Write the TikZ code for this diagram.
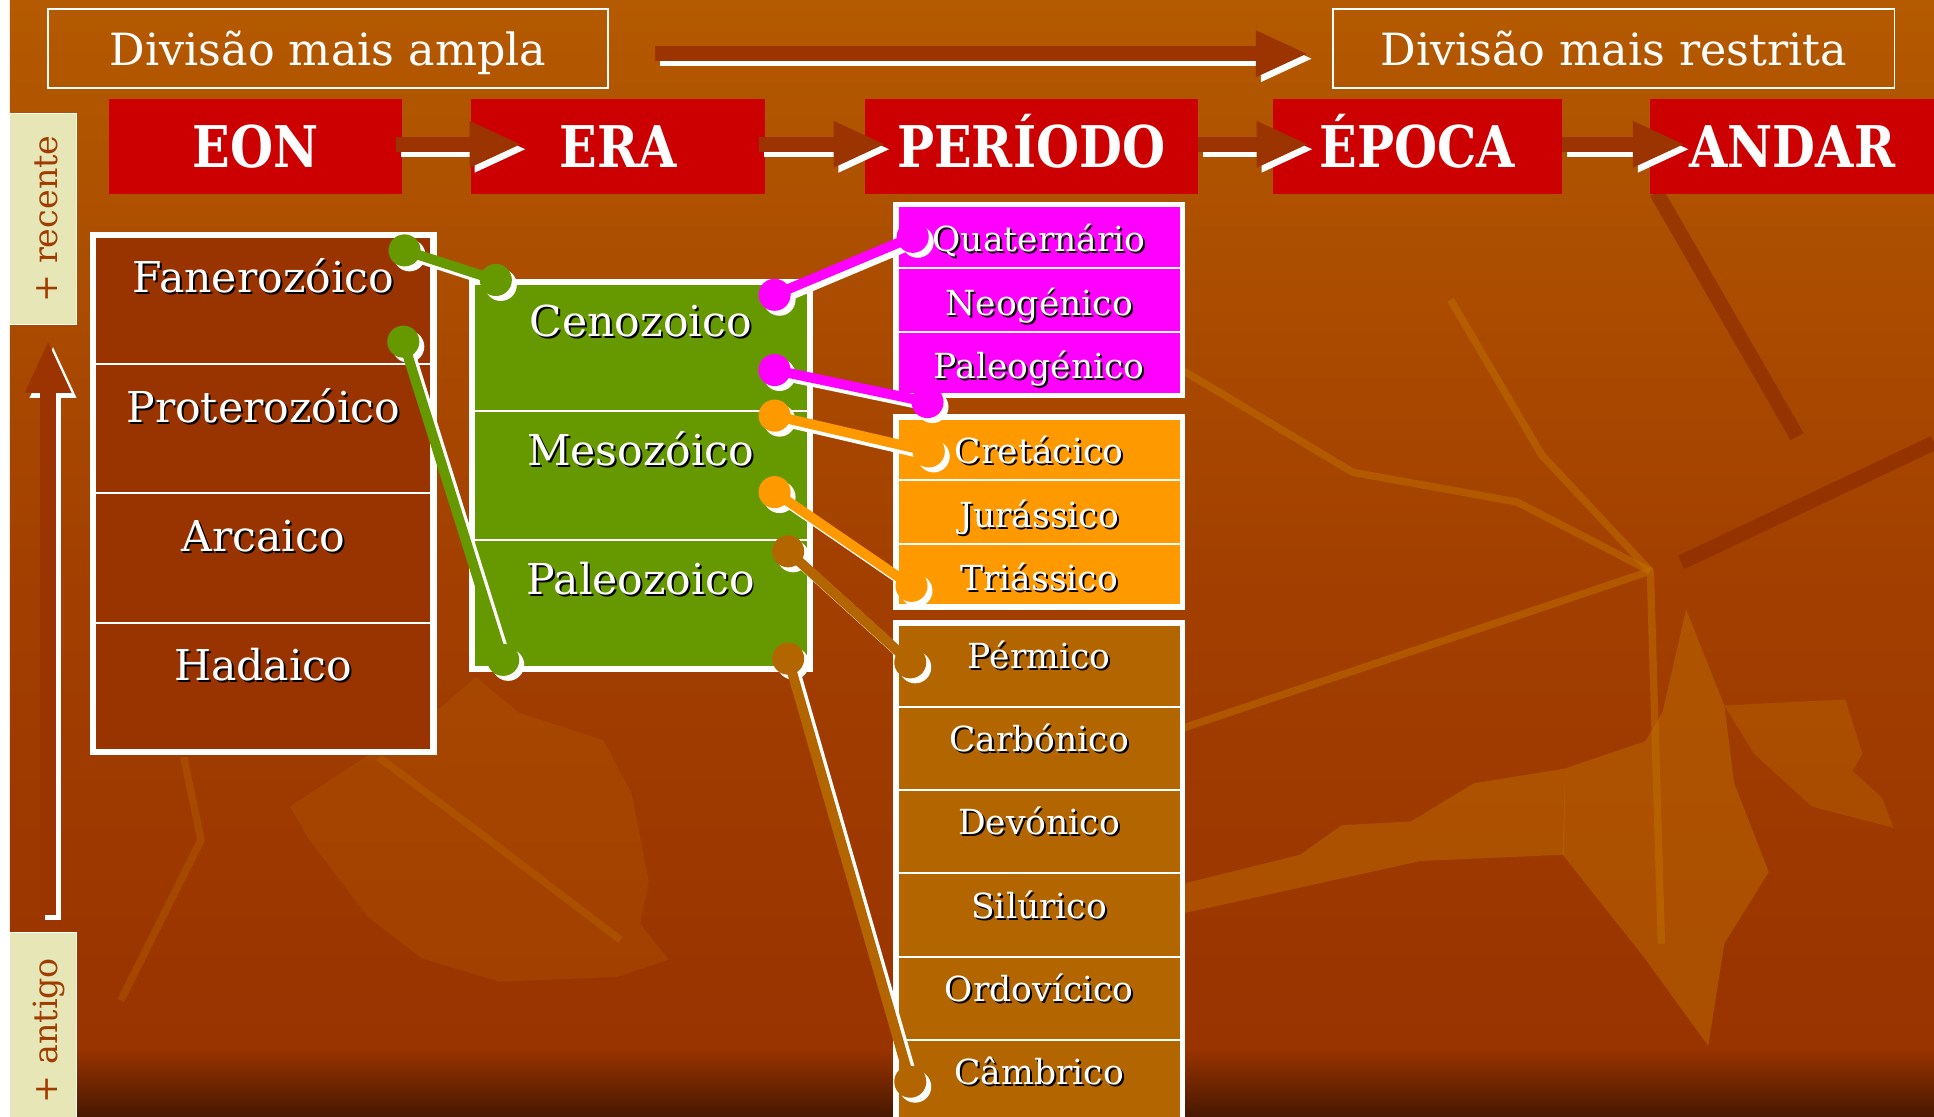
\documentclass[tikz,border=0pt]{standalone}
\usepackage{fontspec}
\usepackage{graphicx}
\usepackage{xcolor}
\usepackage{tikz}
\usetikzlibrary{arrows.meta, calc}
\newfontfamily\rotfont{DejaVu Serif}
\definecolor{fundoA}{RGB}{180, 90, 0}
\definecolor{fundoB}{RGB}{163, 64, 0}
\definecolor{fundoC}{RGB}{153, 51, 0}
\definecolor{fundoD}{RGB}{72, 24, 0}
\definecolor{folhaclara}{RGB}{192, 112, 0}
\definecolor{folhaescura}{RGB}{138, 40, 0}
\definecolor{eoncor}{RGB}{153, 51, 0}
\definecolor{eracor}{RGB}{102, 153, 0}
\definecolor{cenocor}{RGB}{255, 0, 255}
\definecolor{mesocor}{RGB}{255, 153, 0}
\definecolor{paleocor}{RGB}{179, 102, 0}
\definecolor{cabcor}{RGB}{204, 0, 0}
\definecolor{setacor}{RGB}{155, 52, 0}
\definecolor{abacor}{RGB}{230, 230, 182}
\definecolor{abatexto}{RGB}{160, 60, 0}
\pgfdeclareverticalshading{fundo}{100bp}{color(0bp)=(fundoD); color(25bp)=(fundoD); color(28bp)=(fundoC); color(50bp)=(fundoB); color(75bp)=(fundoA); color(100bp)=(fundoA)}
\newcommand{\fstopo}{\rotfont\fontsize{36}{40}\selectfont}
\newcommand{\fsgrande}{\rotfont\fontsize{34.5}{38}\selectfont}
\newcommand{\fsper}{\rotfont\fontsize{28}{32}\selectfont}
\newcommand{\fscab}{\rotfont\fontsize{46.6}{50}\selectfont\bfseries}
\newcommand{\fsaba}{\rotfont\fontsize{27}{30}\selectfont}
\newcommand{\estreito}[1]{\scalebox{0.86}[1]{#1}}
\newcommand{\sombra}[1]{\makebox[0pt][l]{\hspace{1.6pt}\raisebox{-1.6pt}{\color{black}#1}}#1}
\tikzstyle{topo} = [rectangle, draw=white, line width=1.5pt, minimum height=64pt, inner sep=0pt, text=white, font=\fstopo, text height=30pt, text depth=1.4pt]
\tikzstyle{cabecalho} = [rectangle, fill=cabcor, minimum height=77pt, inner sep=0pt, text=white, font=\fscab, text height=34pt, text depth=0pt]
\tikzstyle{aba} = [rectangle, draw=white, line width=1pt, fill=abacor, rotate=90, minimum height=54pt, inner sep=0pt, text=abatexto, font=\fsaba, text height=25pt, text depth=1pt]
\tikzstyle{eonlinha} = [rectangle, draw=white, line width=1.5pt, fill=eoncor, minimum width=276pt, minimum height=104.75pt, inner sep=0pt, outer sep=0pt, text=white, font=\fsgrande, text height=12pt, text depth=22.8pt]
\tikzstyle{eralinha} = [rectangle, draw=white, line width=1.5pt, fill=eracor, minimum width=274pt, minimum height=104.67pt, inner sep=0pt, outer sep=0pt, text=white, font=\fsgrande, text height=10pt, text depth=25.6pt]
\tikzstyle{perlinha} = [rectangle, draw=white, line width=1.5pt, minimum width=232.4pt, inner sep=0pt, outer sep=0pt, text=white, font=\fsper]
\tikzstyle{moldura} = [draw=white, line width=5pt]
\tikzstyle{seta} = [setacor, line width=12.5pt, -{Triangle[length=41pt, width=38pt, line width=0pt]}]
\tikzstyle{sombra seta} = [seta, white, transform canvas={shift={(4,4)}}]
\tikzstyle{liga} = [line width=8pt]
\tikzstyle{sombra liga} = [white, line width=8pt, transform canvas={shift={(4,4)}}]
\tikzstyle{veio clara} = [draw=folhaclara, line width=6pt, opacity=0.5, line join=round]
\tikzstyle{veio escura} = [draw=folhaescura, line width=12pt, opacity=0.6]

\begin{document}
\begin{tikzpicture}[x=1pt, y=-1pt]
    % fundo
    \useasboundingbox (0,0) rectangle (1568,905);
    \fill[white] (0,0) rectangle (1568,905);
    \shade[shading=fundo] (8,0) rectangle (1568,905);

    % folhas do fundo
    \fill[folhaclara, opacity=0.45] (1367,494) -- (1348,577) -- (1334,601) -- (1269,623) -- (1267,693) -- (1332,775) -- (1385,848) -- (1398,765) -- (1434,707) -- (1406,635) -- (1398,572) -- cycle;
    \fill[folhaclara, opacity=0.45] (957,717) -- (1054,693) -- (1088,669) -- (1144,666) -- (1195,635) -- (1269,623) -- (1268,693) -- (1152,698) -- (957,741) -- cycle;
    \fill[folhaclara, opacity=0.35] (1398,572) -- (1496,567) -- (1510,611) -- (1502,625) -- (1526,647) -- (1535,671) -- (1469,654) -- (1422,611) -- cycle;
    \fill[folhaclara, opacity=0.2] (358,573) -- (386,549) -- (421,578) -- (489,600) -- (512,643) -- (526,714) -- (519,749) -- (542,778) -- (500,792) -- (405,796) -- (342,777) -- (298,743) -- (251,681) -- (235,654) -- cycle;
    \draw[veio clara] (960,301) -- (1097,383) -- (1230,407) -- (1338,463);
    \draw[veio clara] (1176,243) -- (1250,369) -- (1338,463);
    \draw[veio clara] (957,591) -- (1246,494) -- (1338,463) -- (1347,765);
    \draw[veio clara, opacity=0.3] (149,614) -- (163,681) -- (98,811);
    \draw[veio clara, opacity=0.3] (307,614) -- (386,673) -- (503,762);
    \draw[veio escura] (1343,156) -- (1457,354);
    \draw[veio escura] (1363,456) -- (1568,359);

    % divisoes do topo
    \node[topo, minimum width=454pt] (amplo) at (266,39) {Divisão mais ampla};
    \node[topo, minimum width=455pt] (restrito) at (1308.5,39) {Divisão mais restrita};
    \draw[sombra seta] ($(amplo.east)+(37,4.6)$) -- ($(restrito.west)+(-21,4.6)$);
    \draw[seta] ($(amplo.east)+(37,4.6)$) -- ($(restrito.west)+(-21,4.6)$);

    % cabecalhos
    \node[cabecalho, minimum width=238pt] (eon) at (207,118.5) {\estreito{EON}};
    \node[cabecalho, minimum width=238pt] (era) at (501,118.5) {\estreito{ERA}};
    \node[cabecalho, minimum width=270pt] (periodo) at (836,118.5) {\estreito{PERÍODO}};
    \node[cabecalho, minimum width=234pt] (epoca) at (1149,118.5) {\estreito{ÉPOCA}};
    \node[cabecalho, minimum width=230pt] (andar) at (1453,118.5) {\estreito{ANDAR}};
    \foreach \de/\para/\ini/\fim in {eon/era/-5/40, era/periodo/-5/16, periodo/epoca/0/28, epoca/andar/0/27} {
        \draw[sombra seta] ($(\de.east)+(\ini,-1.5)$) -- ($(\para.west)+(\fim,-1.5)$);
        \draw[seta] ($(\de.east)+(\ini,-1.5)$) -- ($(\para.west)+(\fim,-1.5)$);
    }

    % abas laterais
    \node[aba, minimum width=171pt] (recente) at (35,177.5) {+ recente};
    \node[aba, minimum width=159pt] (antigo) at (35,835.5) {+ antigo};
    \draw[sombra seta] ($(antigo.east)+(4,-14)$) -- ($(recente.west)+(4,14)$);
    \draw[seta] ($(antigo.east)+(4,-14)$) -- ($(recente.west)+(4,14)$);

    % eons
    \foreach \nome/\rotulo [count=\i] in {fan/Fanerozóico, pro/Proterozóico, arc/Arcaico, had/Hadaico}
        \node[eonlinha] (\nome) at (213.5, {138.125+104.75*\i}) {\sombra{\rotulo}};
    \draw[moldura] (fan.north west) rectangle (had.south east);

    % eras
    \foreach \nome/\rotulo [count=\i] in {ceno/Cenozoico, meso/Mesozóico, paleo/Paleozoico}
        \node[eralinha] (\nome) at (519.5, {176.17+104.667*\i}) {\sombra{\rotulo}};
    \draw[moldura] (ceno.north west) rectangle (paleo.south east);

    % periodos
    \foreach \nome/\rotulo [count=\i] in {qua/Quaternário, neo/Neogénico, pgn/Paleogénico}
        \node[perlinha, fill=cenocor, minimum height=51.63pt, text height=27pt, text depth=2.2pt] (\nome) at (842.5, {139.98+51.63*\i}) {\sombra{\rotulo}};
    \draw[moldura, line width=4.6pt] (qua.north west) rectangle (pgn.south east);
    \foreach \nome/\rotulo [count=\i] in {cre/Cretácico, jur/Jurássico, tri/Triássico}
        \node[perlinha, fill=mesocor, minimum height=51.43pt, text height=27pt, text depth=2.2pt] (\nome) at (842.5, {312.28+51.43*\i}) {\sombra{\rotulo}};
    \draw[moldura, line width=4.6pt] (cre.north west) rectangle (tri.south east);
    \foreach \nome/\rotulo [count=\i] in {per/Pérmico, car/Carbónico, dev/Devónico, sil/Silúrico, ord/Ordovícico, cam/Câmbrico}
        \node[perlinha, fill=paleocor, minimum height=67.6pt, text height=14pt, text depth=9pt] (\nome) at (842.5, {471.5+67.6*\i}) {\sombra{\rotulo}};
    \draw[moldura, line width=4.6pt] (per.north west) rectangle (cam.south east);

    % pontos de ligacao
    \coordinate (fanA) at (328,203);
    \coordinate (fanB) at (327,277);
    \coordinate (cenoA) at (402,227);
    \coordinate (paleoA) at (408,535);
    \coordinate (cenoB) at (628,239);
    \coordinate (cenoC) at (628,300);
    \coordinate (quaA) at (740,192);
    \coordinate (pgnA) at (752,326);
    \coordinate (mesoA) at (628,337);
    \coordinate (mesoB) at (628,399);
    \coordinate (creA) at (753,366);
    \coordinate (triA) at (739,475);
    \coordinate (paleoB) at (639,447);
    \coordinate (paleoC) at (639,534);
    \coordinate (perA) at (738,537);
    \coordinate (camA) at (738,877);

    % ligacoes
    \foreach \a/\b/\cor in {fanA/cenoA/eracor, fanB/paleoA/eracor, cenoB/quaA/cenocor, cenoC/pgnA/cenocor, mesoA/creA/mesocor, mesoB/triA/mesocor, paleoB/perA/paleocor, paleoC/camA/paleocor} {
        \fill[sombra liga] (\a) circle (13) (\b) circle (13);
        \draw[sombra liga] (\a) -- (\b);
        \draw[liga, color=\cor] (\a) -- (\b);
        \fill[color=\cor] (\a) circle (13) (\b) circle (13);
    }
\end{tikzpicture}
\end{document}
